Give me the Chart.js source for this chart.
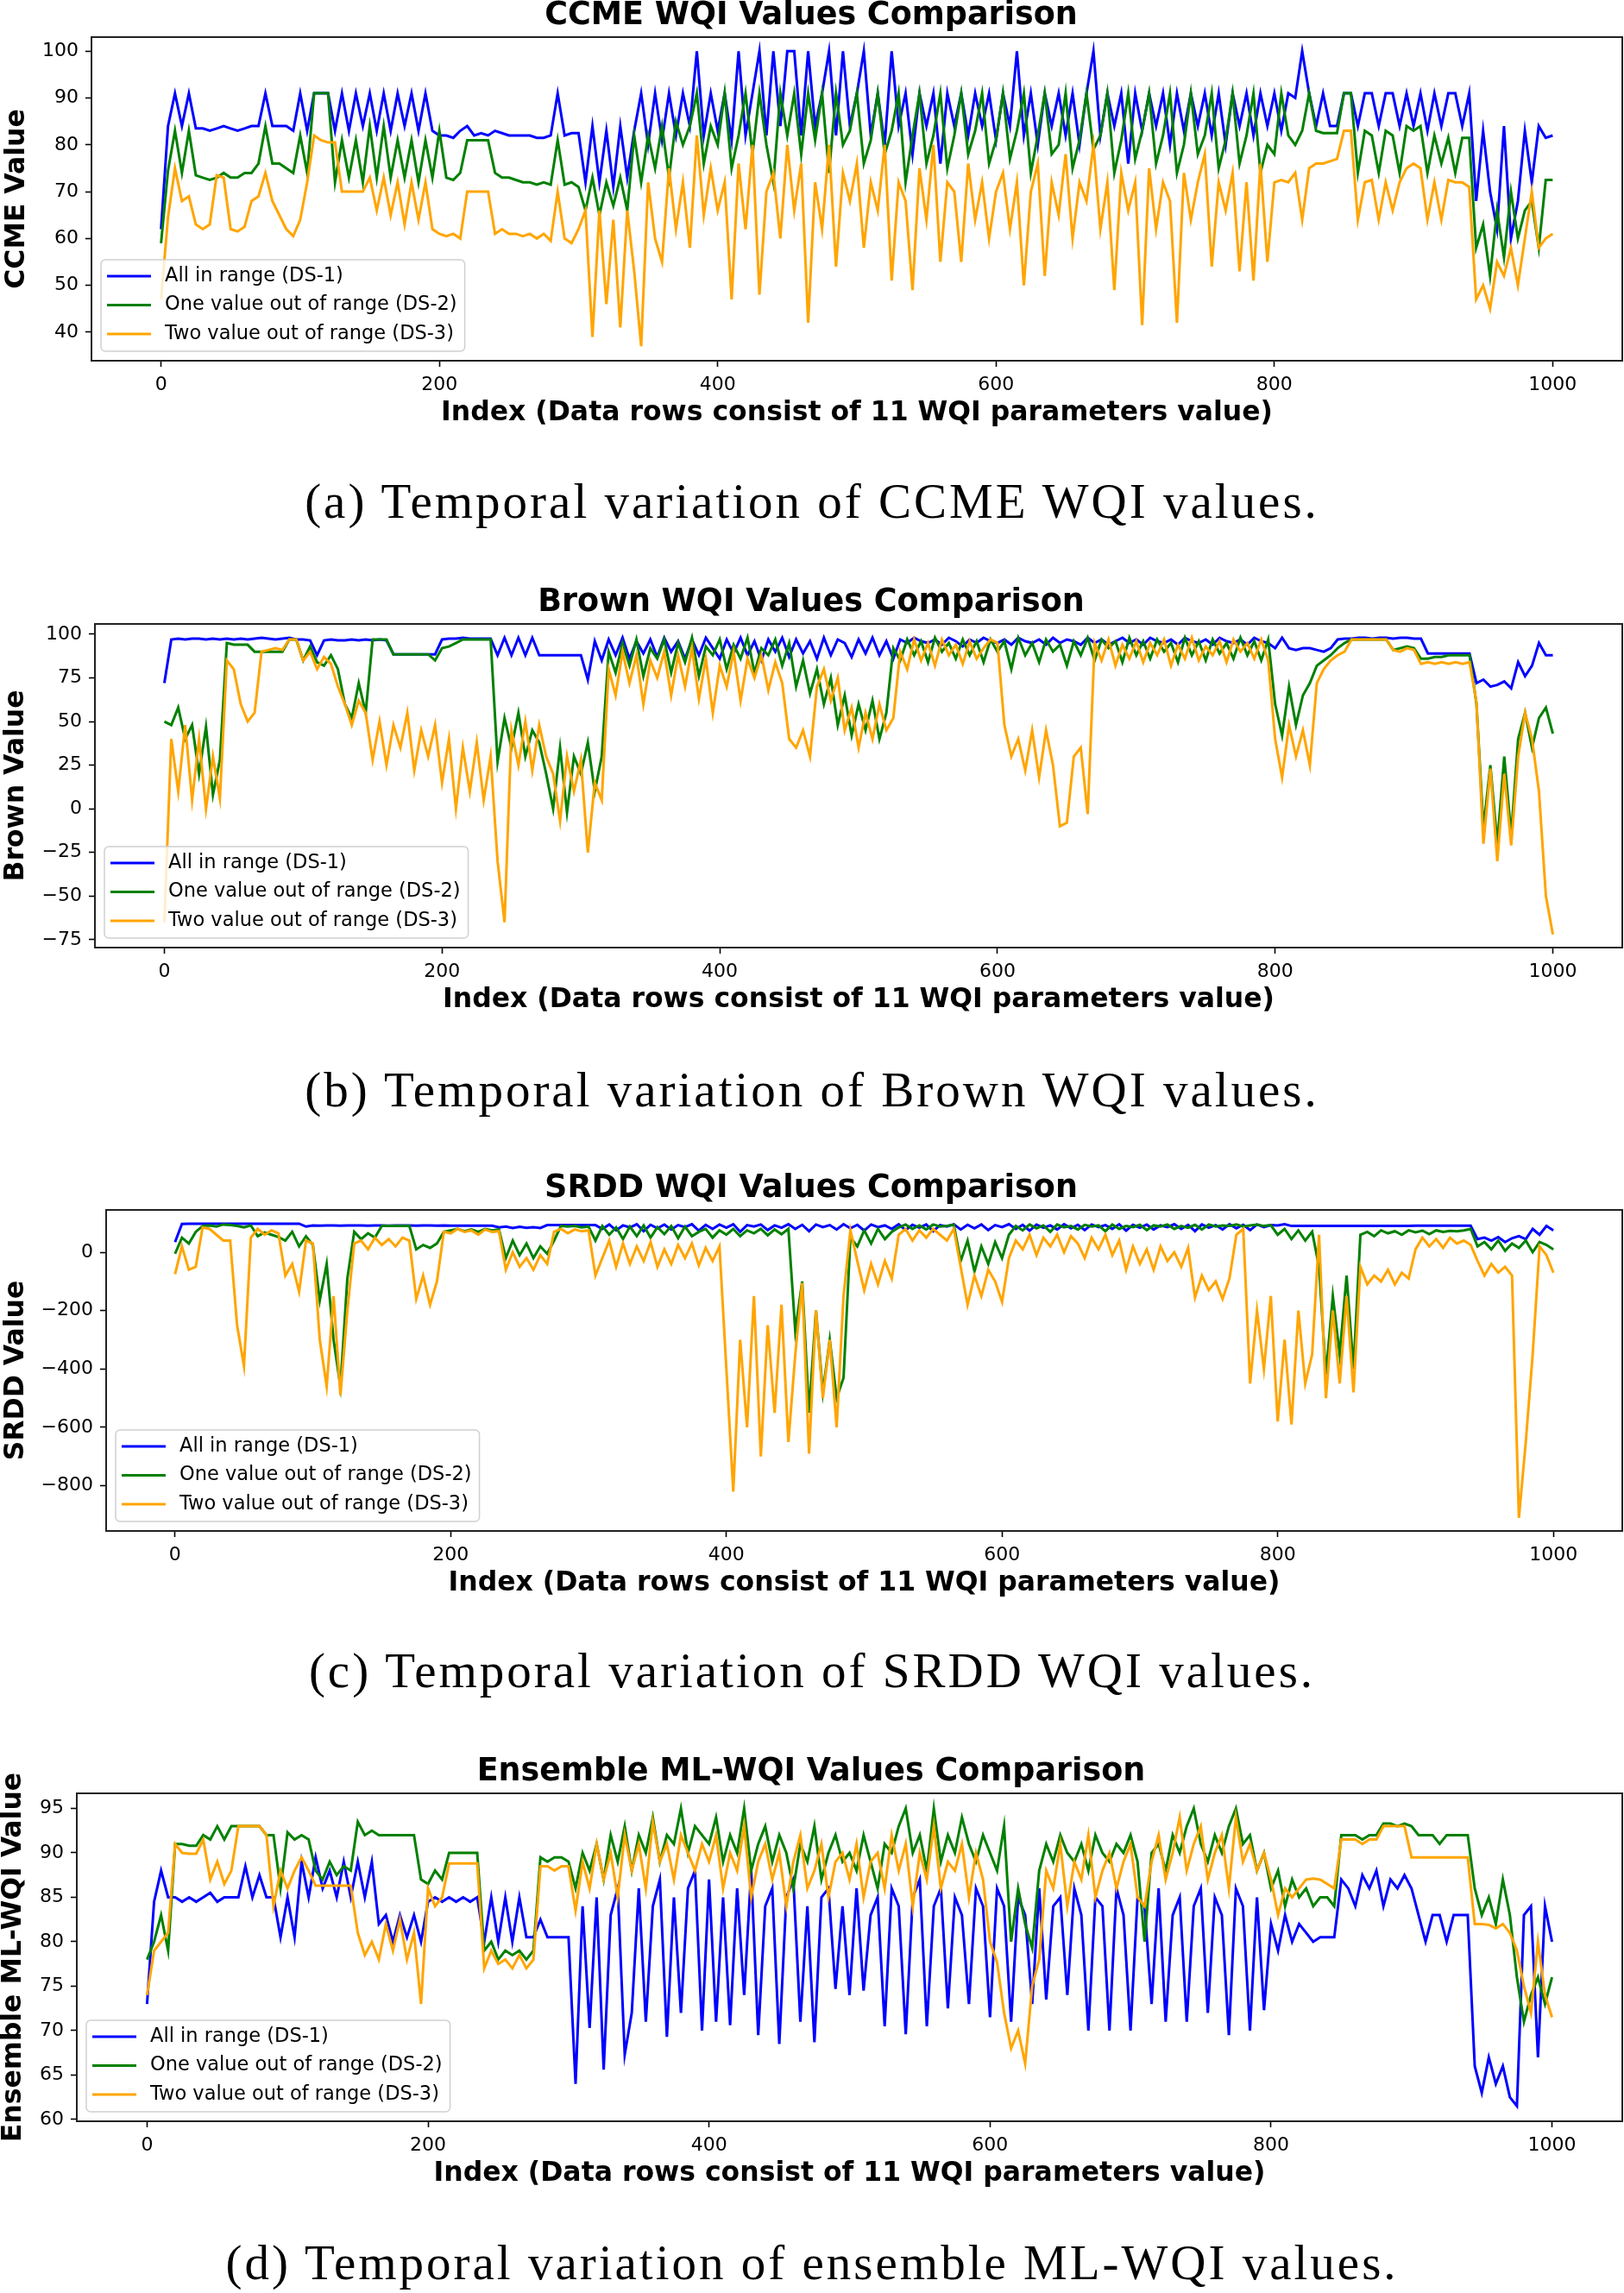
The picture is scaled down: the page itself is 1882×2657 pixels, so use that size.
<!DOCTYPE html>
<html>
<head>
<meta charset="utf-8">
<title>WQI Values Comparison</title>
<script src="https://cdn.jsdelivr.net/npm/chart.js@4.4.1/dist/chart.umd.min.js"></script>
<style>
  body { margin: 0; background: #fff; width: 1882px; height: 2657px; position: relative; overflow: hidden; }
  .panel { position: absolute; left: 0; width: 1882px; }
  .cap { position: absolute; left: 0; width: 1882px; text-align: center; font-family: "Liberation Serif", serif;
         font-size: 57px; line-height: 57px; letter-spacing: 3px; color: #000; white-space: nowrap; }
</style>
</head>
<body>
<div class="panel" style="top:0px;height:498px"><canvas id="ccmeChart"></canvas></div>
<div class="cap" style="top:552px">(a) Temporal variation of CCME WQI values.</div>
<div class="panel" style="top:680px;height:498px"><canvas id="brownChart"></canvas></div>
<div class="cap" style="top:1234px">(b) Temporal variation of Brown WQI values.</div>
<div class="panel" style="top:1359px;height:495px"><canvas id="srddChart"></canvas></div>
<div class="cap" style="top:1907px">(c) Temporal variation of SRDD WQI values.</div>
<div class="panel" style="top:2035px;height:503px"><canvas id="ensChart"></canvas></div>
<div class="cap" style="top:2593px">(d) Temporal variation of ensemble ML-WQI values.</div>

<script>
// Index des lignes (une valeur lue tous les 5 rangs, 0 -> 1000)
const rowIndex = Array.from({ length: 201 }, (_, i) => i * 5);
const xTicks = [0, 200, 400, 600, 800, 1000];
const seriesLabels = ['All in range (DS-1)', 'One value out of range (DS-2)', 'Two value out of range (DS-3)'];
const seriesColors = ['#0000ff', '#008000', '#ffa500'];

// (a) CCME
const ccmeTicks = [40, 50, 60, 70, 80, 90, 100];
const ccmeDS1 = [
  62,84,91,84,91,83.5,83.5,83,83.5,84,83.5,83,83.5,84,84,91,84,84,84,83,
  91,83,91,91,91,83,91,83,91,84,91,83,91,83,91,84,91,83,91,83,
  82,82,81.5,83,84,82,82.5,82,83,82.5,82,82,82,82,81.5,81.5,82,91,82,82.5,
  82.5,72,84,72,83,71,84,73,83,91,80,91,81,91,82,91,84,100,82,91,
  83,91,81,100,82,91,100,82,100,84,100,100,82,100,84,91,100,82,100,84,
  91,100,82,91,80,100,84,91,78,91,84,91,76,91,84,91,82,91,84,91,
  81,91,84,100,82,91,80,91,84,91,82,91,80,91,100,82,91,84,91,76,
  91,83,91,84,91,80,91,83,91,84,91,82,91,80,91,84,91,82,91,84,
  91,83,91,90,100,91,84,91,84,84,91,91,84,91,91,84,91,91,84,91,
  84,91,83,91,84,91,91,84,91,68,83,70,62,84,60,68,83,72,84,81.5,
  82
];
const ccmeDS2 = [
  59,74.5,83,74,83,73.5,73,72.5,73,74,73,73,74,74,76,84,76,76,75,74,
  82,74,91,91,91,72,81,73,81,72,84,73,84,73,81,73,81,72,81,73,
  83,73,72.5,74,81,81,81,81,74,73,73,72.5,72,72,71.5,72,71.5,81,71.5,72,
  71,66,73,65,72,67,73,66,82,72,82,75,84,73,85,80,84,91,76,84,
  80,91,75,82,91,78,91,80,72,91,82,91,78,91,81,91,74,91,80,83,
  91,76,81,91,78,83,91,72,82,91,76,82,91,75,82,91,78,83,91,76,
  81,91,77,83,91,74,82,91,78,80,91,75,81,91,79,82,91,74,81,91,
  77,83,91,76,82,91,74,80,91,78,82,91,75,81,91,76,82,91,74,80,
  78,91,82,80,83,91,83,82.5,82.5,82.5,91,91,74,83,82,74,83,82,74,84,
  83,84,74,82,76,81.5,74,81.5,81.5,58,63,52,66,56,70,60,66,68,58,72.5,
  72.5
];
const ccmeDS3 = [
  47,64.5,75,68,69,63,62,63,73.5,73,62,61.5,62.5,68,69,74,68,65,62,60.5,
  64,72,82,81,80.5,80.5,70,70,70,70,73,66,73,65,72,63,72,64,72,62,
  61,60.5,61,60,70,70,70,70,61,62,61,61,60.5,61,60,61,59.5,70,60,59,
  62,66,39,66,46,64,41,66,53,37,72,60,55,75,62,72,58,82,65,75,
  66,72,47,76,62,80,48,70,74,60,80,66,76,42,72,62,80,54,74,68,
  76,58,72,66,80,51,72,68,49,75,64,80,55,72,70,55,76,64,72,60,
  70,74,62,72,50,70,76,52,72,65,78,60,72,68,80,62,72,49,74,66,
  72,41.5,75,62,72,68,42,74,64,72,78,54,72,66,74,53,72,51,76,55,
  72,72.5,72,74,64,75,76,76,76.5,77,83,83,64,72,72.5,64,72,66,72,75,
  76,75,64,72,64,72.5,72,72,71,47,50,45,55,52,58,50,60,70,58,60,
  61
];

// (b) Brown
const brownTicks = [-75, -50, -25, 0, 25, 50, 75, 100];
const brownDS1 = [
  72,97,97.5,97,97.5,97.5,97,97.5,97,97.5,97,97.5,97,97.5,98,97.5,97,97.5,98,97,
  97,96.5,88,96.5,97,96.5,96.5,97,96.5,97,96.5,97,96.5,88.5,88.5,88.5,88.5,88.5,88.5,88.5,
  97,97.5,97.5,98,97.5,97.5,97.5,97.5,88,98,88,98,88,98,88,88,88,88,88,88,
  88,74,96,85,97,88,98,86,96,89,97,87,98,90,96,86,97,88,98,92,
  86,97,89,98,88,96,85,97,90,98,87,97,89,96,86,98,88,97,95,87,
  97,89,98,88,96,86,97,95,98,96,95,97,94,98,96,93,97,95,98,96,
  95,97,94,98,96,95,97,94,98,95,97,96,94,98,95,97,94,96,98,95,
  97,94,98,96,95,97,94,98,96,95,97,94,98,96,95,97,94,98,96,95,
  92,98,92,91,92,92,91,90,92,97,97.5,97.5,98,98,97.5,98,98,97.5,98,98,
  97.5,97.5,89,89,89,89,89,89,89,72,74,70,71,73,69,84,76,82,95,88,
  88
];
const brownDS2 = [
  50,48,58,40,48,20,47,8,28,95,94,94,94,90,90,90,90,90,97,97,
  85,93,84,82,88,80,60,52,72,55,97,97,97,88.5,88.5,88.5,88.5,88.5,88.5,85,
  92,93,95,97,97,97,97,97,27,52,35,55,30,45,38,20,0,35,-2,30,
  20,38,10,30,90,78,95,82,97,76,92,86,97,78,95,84,98,76,93,88,
  97,80,94,86,98,78,92,88,97,82,95,70,85,66,80,60,75,48,65,42,
  60,45,62,40,55,92,85,97,88,96,84,98,90,95,86,97,88,96,84,97,
  90,96,80,98,88,95,84,97,90,94,82,96,88,98,85,97,92,96,84,98,
  88,96,86,97,90,95,84,98,88,96,85,97,89,95,86,98,88,96,85,97,
  60,42,70,48,65,72,82,85,88,92,95,97,97,97,97,97,97,91,92,93,
  92,86,86,87,87,88,88,88,88,60,-11,25,-20,30,-15,40,55,35,52,58,
  43
];
const brownDS3 = [
  -65,40,10,48,5,40,0,30,6,85,80,60,50,55,90,91,92,91,97,97,
  85,90,80,87,83,70,60,48,62,55,28,50,25,48,35,55,22,45,30,48,
  15,40,0,35,10,38,5,30,-30,-65,45,25,50,22,48,30,20,-7,30,10,
  28,-25,15,5,80,65,90,72,88,60,85,75,90,65,88,70,92,63,86,55,
  82,70,90,62,86,75,88,68,84,72,40,35,45,30,70,80,62,75,45,58,
  35,55,40,60,45,52,90,80,97,85,95,82,97,88,94,83,96,86,92,97,
  95,48,30,40,22,45,18,45,25,-10,-8,30,35,-3,95,85,97,82,94,86,
  96,84,95,88,97,82,94,86,98,85,93,88,96,84,97,90,95,86,97,85,
  40,18,48,30,45,25,72,80,85,88,90,97,97,97,97,97,97,91,90,92,
  91,83,84,83,84,83,84,83,84,61,-20,23,-30,20,-21,30,55,40,10,-50,
  -72
];

// (c) SRDD
const srddTicks = [-800, -600, -400, -200, 0];
const srddDS1 = [
  35,97,98,98,98,98,98,98,98,98,98,98,98,98,98,98,98,98,98,88,
  92,91,92,92,91,92,92,92,91,92,92,91,92,92,92,91,92,92,91,92,
  91,91,91,91,91,91,91,85,88,83,87,84,86,83,93,93,93,93,93,93,
  93,93,80,95,75,92,85,96,72,94,82,95,78,93,86,96,74,94,80,95,
  84,96,70,93,88,95,76,92,84,96,80,94,72,95,86,93,78,96,82,94,
  74,95,86,92,80,96,76,94,84,95,72,93,88,96,78,94,82,95,76,93,
  86,96,80,94,74,95,84,92,78,96,82,94,76,95,86,93,80,96,74,94,
  84,95,78,92,86,96,80,94,72,95,84,93,78,96,82,94,76,95,86,93,
  92,96,90,90,90,90,90,90,90,90,90,90,90,90,90,90,90,90,90,90,
  91,91,91,91,91,91,91,91,91,45,50,40,52,35,48,55,45,80,60,90,
  75
];
const srddDS2 = [
  -5,50,30,70,90,92,88,95,93,90,85,92,55,68,60,52,40,70,20,55,
  25,-165,-40,-300,-460,-90,70,45,65,50,90,90,90,90,90,10,25,15,30,70,
  75,80,72,78,70,80,75,78,-20,40,-10,30,-20,20,-5,40,90,88,90,85,
  88,40,90,60,85,45,88,55,92,50,86,62,90,48,88,55,70,80,50,75,
  60,80,55,75,65,80,58,78,62,80,-270,-100,-550,-200,-480,-300,-500,-430,50,20,
  75,30,80,45,70,85,95,80,92,78,95,88,90,94,-30,40,-66,20,-40,35,
  -20,60,90,75,95,82,92,70,95,85,90,78,94,88,92,72,95,80,90,86,
  94,76,92,88,95,80,90,84,94,78,95,88,92,90,95,88,92,95,90,93,
  60,80,45,75,40,70,-50,-420,-150,-350,-80,-400,60,70,55,75,65,72,60,75,
  68,74,62,75,70,73,72,75,80,20,35,10,40,5,30,15,40,0,35,25,
  10
];
const srddDS3 = [
  -75,20,-60,-50,85,80,60,40,40,-250,-390,50,80,60,75,65,-80,-40,-135,40,
  30,-300,-460,-150,-490,-200,30,40,10,50,25,45,20,50,40,-160,-80,-180,-100,70,
  65,80,70,75,60,78,70,72,-60,0,-50,-20,-60,-10,-40,70,80,65,78,72,
  75,-80,-20,40,-50,30,-40,20,-30,35,-50,10,-40,25,-20,30,-45,15,-30,20,
  -400,-820,-300,-600,-150,-700,-250,-550,-180,-650,-350,-105,-690,-200,-500,-300,-600,-150,75,-30,
  -130,-40,-110,-30,-90,60,80,40,75,50,80,60,40,80,-50,-180,-80,-150,-60,-100,
  -170,-20,40,10,60,-10,50,20,60,0,55,30,-20,50,10,60,-10,40,-60,20,
  -40,10,-60,20,-30,0,-50,15,-155,-80,-130,-100,-160,-90,60,80,-450,-200,-400,-150,
  -580,-300,-590,-200,-450,-350,60,-500,-200,-450,-150,-480,-50,-110,-80,-100,-60,-110,-70,-90,
  10,50,20,45,15,50,30,40,25,-30,-80,-40,-70,-50,-80,-910,-650,-350,20,-10,
  -70
];

// (d) Ensemble ML-WQI
const ensTicks = [60, 65, 70, 75, 80, 85, 90, 95];
const ensDS1 = [
  73,84.5,88,85,85,84.5,85,84.5,85,85.5,84.5,85,85,85,88.5,85,87.5,85,85,80.5,
  85,80.5,89,85,89.5,86,88,85,89,85,89,85,89,82,83,80,83,80.5,83,80,
  84.5,85,84.5,85,84.5,85,84.5,85,80,85,80,85,80,85,80.5,80.5,82.5,80.5,80.5,80.5,
  80.5,64,84,70.3,85,65.6,83,86,67.3,72,86,71,84,87,69.3,85,72,86,88,70,
  87,71,85,70.6,86,74,88,69.5,84,86,68.5,85,87,71,84,68.7,85,86,74.7,84,
  74,86,74.5,83,85,70.5,86,84,69.6,85,87,70.5,84,86,72.5,85,83,73,86,84,
  71.5,86,84,71,85,83,73,86,73.5,84,85,74,86,83,70,85,84,70,86,83,
  70,85,84,73,86,71,83,85,71,84,86,72,85,83,69.5,86,84,70,85,72.3,
  82,79,83,80,82,81,80,80.5,80.5,80.5,87,86,84,87.5,86,88,84,87,86,87.5,
  86,83,80,83,83,80,83,83,83,66,63,67,64,66,62.5,61.5,83,84,67,84,
  80
];
const ensDS2 = [
  78,80,83,79,91,91,90.8,90.8,92,91.5,93,91.5,93,93,93,93,93,92,92,86,
  92.3,91.5,92,91.5,88,87,89,87.5,88.5,88,93.5,92,92.5,92,92,92,92,92,92,87,
  86.5,88,87,90,90,90,90,90,79,80,78,79,78.5,79,78,79,89.5,89,89.5,89.5,
  89,86,90,88,91,87,92,89,93,88,92,90,94,89,92,91,95,90,93,92,
  91,94,89,92,90,95,88,91,93,89,92,90,86,91,89,93,87,90,92,89,
  90,88,92,89,86,91,90,93,95,90,92,88,95,89,92,90,94,91,89,92,
  90,88,93,80,86,82,79.3,88,91,89,92,90,89,91,88,92,90,89,91,90,
  92,89,80,90,91,88,92,90,93,95,91,89,92,90,93,95,91,92,88,90,
  86,88,84,87,85,86,84,85,85,84,92,92,92,91.5,92,92,93.3,93.3,93,93.3,
  93,92,92,92,91,92,92,92,92,86,83,85,82,87,83,76,71,74,76,73,
  76
];
const ensDS3 = [
  74,79,80,81,91,90,89.9,89.9,91.5,87,89,86.5,88,93,93,93,93,92,84,88,
  86,88,89.5,88,86.3,86.3,86.3,86.3,86.3,86.3,81,78.5,80,78,82,79,82.5,78,81,73,
  86,84,85,88.8,88.8,88.8,88.8,88.8,77,79,77.5,78,77,78.5,77,78,88.5,88.5,88,88.5,
  88.5,83.5,89,86,91,87,90,85,92,88,91,86,93.5,89,91,87,92,90,88,91,
  89,92,86,90,88,93,85,89,91,87,90,84,89,92,86,88,91,85,89,90,
  87,91,85,89,90,86,92,88,91,84,90,87,93,86,89,88,91,85,90,87,
  80,77.7,72,68,70,66.3,75,78,88,86,91,84,89,87,92,85,88,90,86,89,
  91,85,84,89,92,87,90,94,88,91,93,87,90,92,86,94,89,91,88,90,
  87,83,86,85,86,87,87.1,87,86.5,86,91.5,91.5,91.5,91,91.5,91.5,93,93,93,93,
  89.5,89.5,89.5,89.5,89.5,89.5,89.5,89.5,89.5,82,82,81.9,81.5,82,81,79,75,72,80,74,
  71.5
];

const FONT = '"DejaVu Sans"';

// cadre complet autour de la zone de tracé (style matplotlib)
const framePlugin = {
    id: 'frame',
    afterDraw(chart) {
        const { ctx, chartArea: a } = chart;
        ctx.save();
        ctx.strokeStyle = '#222';
        ctx.lineWidth = 2;
        ctx.strokeRect(a.left, a.top, a.right - a.left, a.bottom - a.top);
        ctx.restore();
    }
};

// légende dans le coin bas-gauche
const legendPlugin = {
    id: 'mplLegend',
    afterDatasetsDraw(chart) {
        const { ctx, chartArea: a } = chart;
        const sets = chart.data.datasets;
        ctx.save();
        ctx.font = '22.5px ' + FONT;
        const textW = Math.max(...sets.map(d => ctx.measureText(d.label).width));
        const w = 7 + 51 + 16 + textW + 9, h = 106;
        const x = a.left + 11, y = a.bottom - 11 - h;
        ctx.beginPath();
        if (ctx.roundRect) ctx.roundRect(x, y, w, h, 5); else ctx.rect(x, y, w, h);
        ctx.fillStyle = 'rgba(255,255,255,0.8)';
        ctx.fill();
        ctx.strokeStyle = '#d0d0d0';
        ctx.lineWidth = 1.5;
        ctx.stroke();
        sets.forEach((d, i) => {
            const cy = y + 19 + i * 33.5;
            ctx.strokeStyle = d.borderColor;
            ctx.lineWidth = 3.2;
            ctx.beginPath();
            ctx.moveTo(x + 7, cy);
            ctx.lineTo(x + 58, cy);
            ctx.stroke();
            ctx.fillStyle = '#000';
            ctx.textBaseline = 'middle';
            ctx.fillText(d.label, x + 74, cy);
        });
        ctx.restore();
    }
};

// titre de l'axe Y (dessiné à la main pour ne pas être compressé)
const yLabelPlugin = {
    id: 'yLabel',
    afterDraw(chart, args, opts) {
        const { ctx, chartArea: a } = chart;
        ctx.save();
        ctx.translate(opts.x, (a.top + a.bottom) / 2);
        ctx.rotate(-Math.PI / 2);
        ctx.font = 'bold 31.5px ' + FONT;
        ctx.fillStyle = '#000';
        ctx.textAlign = 'center';
        ctx.textBaseline = 'middle';
        ctx.fillText(opts.text, 0, 0);
        ctx.restore();
    }
};

const minus = v => String(v).replace('-', '\u2212');

function makeChart(id, cfg) {
    const datasets = cfg.series.map((vals, i) => ({
        label: seriesLabels[i],
        data: vals.map((v, k) => ({ x: rowIndex[k], y: v })),
        borderColor: seriesColors[i],
        backgroundColor: seriesColors[i],
        borderWidth: 3,
        pointRadius: 0,
        tension: 0,
        order: 3 - i
    }));
    const tickFont = { family: FONT, size: 22 };
    const grid = { drawOnChartArea: false, tickLength: 7, tickColor: '#000', tickWidth: 1.6 };
    return new Chart(document.getElementById(id), {
        type: 'line',
        data: { datasets },
        options: {
            responsive: true,
            maintainAspectRatio: false,
            animation: false,
            events: [],
            layout: { padding: { left: 0, right: 2, top: 0, bottom: 0 } },
            plugins: {
                legend: { display: false },
                tooltip: { enabled: false },
                title: {
                    display: true, text: cfg.title, color: '#000',
                    font: { family: FONT, size: 36.5, weight: 'bold', lineHeight: 1.0 },
                    padding: { top: 0, bottom: 6.5 }
                },
                yLabel: { text: cfg.yLabel, x: cfg.yLabelX }
            },
            scales: {
                x: {
                    type: 'linear', min: -50, max: 1050,
                    afterBuildTicks: ax => { ax.ticks = xTicks.map(v => ({ value: v })); },
                    afterFit: ax => { ax.height = 80; },
                    ticks: { font: tickFont, color: '#000', padding: 8, maxRotation: 0, callback: v => String(v) },
                    grid: grid,
                    border: { color: '#222', width: 2 },
                    title: {
                        display: true, text: 'Index (Data rows consist of 11 WQI parameters value)', color: '#000',
                        font: { family: FONT, size: 31.5, weight: 'bold', lineHeight: 1.2 },
                        padding: { top: 0, bottom: 0 }
                    }
                },
                y: {
                    type: 'linear', min: cfg.yMin, max: cfg.yMax,
                    afterBuildTicks: ax => { ax.ticks = cfg.yTicks.map(v => ({ value: v })); },
                    afterFit: ax => { ax.width = cfg.plotLeft; },
                    ticks: { font: tickFont, color: '#000', padding: 8, callback: minus },
                    grid: grid,
                    border: { color: '#222', width: 2 }
                }
            }
        },
        plugins: [framePlugin, legendPlugin, yLabelPlugin]
    });
}

makeChart('ccmeChart', {
    title: 'CCME WQI Values Comparison', yLabel: 'CCME Value', yLabelX: 20,
    series: [ccmeDS1, ccmeDS2, ccmeDS3], yTicks: ccmeTicks, yMin: 33.9, yMax: 103.0, plotLeft: 106
});
makeChart('brownChart', {
    title: 'Brown WQI Values Comparison', yLabel: 'Brown Value', yLabelX: 19,
    series: [brownDS1, brownDS2, brownDS3], yTicks: brownTicks, yMin: -79.5, yMax: 105.9, plotLeft: 110
});
makeChart('srddChart', {
    title: 'SRDD WQI Values Comparison', yLabel: 'SRDD Value', yLabelX: 19,
    series: [srddDS1, srddDS2, srddDS3], yTicks: srddTicks, yMin: -955, yMax: 145, plotLeft: 123
});
makeChart('ensChart', {
    title: 'Ensemble ML-WQI Values Comparison', yLabel: 'Ensemble ML-WQI Value', yLabelX: 16,
    series: [ensDS1, ensDS2, ensDS3], yTicks: ensTicks, yMin: 59.8, yMax: 96.7, plotLeft: 89
});
</script>
</body>
</html>
